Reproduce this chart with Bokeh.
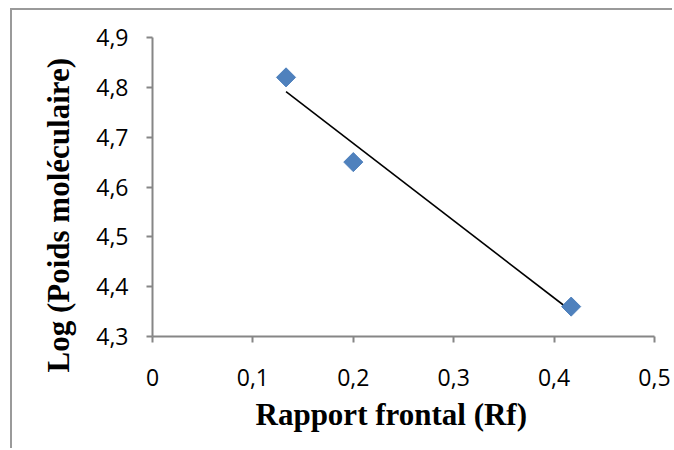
import numpy as np
from bokeh.plotting import figure
from bokeh.models import Range1d, FixedTicker, CustomJSTickFormatter, Title
from bokeh.embed import file_html
from bokeh.resources import INLINE

# Data
rf = [0.133, 0.200, 0.417]
log_pm = [4.82, 4.65, 4.36]
x_ticks = [0, 0.1, 0.2, 0.3, 0.4, 0.5]
y_ticks = [4.3, 4.4, 4.5, 4.6, 4.7, 4.8, 4.9]
x_title = "Rapport frontal (Rf)"
y_title = "Log (Poids moléculaire)"

# linear trendline (least squares)
slope, intercept = np.polyfit(rf, log_pm, 1)
tx = [min(rf), max(rf)]
ty = [slope * v + intercept for v in tx]

p = figure(width=662, height=440, output_backend="svg", toolbar_location=None,
           x_range=Range1d(0, 0.5), y_range=Range1d(4.3, 4.9),
           min_border_left=140, min_border_right=20, min_border_top=27, min_border_bottom=114)
p.styles = {"margin-left": "10px", "margin-top": "8px",
            "border-left": "2px solid #9a9a9a", "border-top": "2px solid #9a9a9a"}
p.outline_line_color = None
p.xgrid.visible = False
p.ygrid.visible = False
p.background_fill_color = "white"
p.border_fill_color = "white"

fmt = CustomJSTickFormatter(code="return (Math.round(tick*10)/10).toString().replace('.', ',');")
for ax, ticks in ((p.xaxis, x_ticks), (p.yaxis, y_ticks)):
    ax.ticker = FixedTicker(ticks=ticks)
    ax.formatter = fmt
    ax.axis_line_color = "#868686"
    ax.axis_line_width = 2
    ax.major_tick_line_color = "#868686"
    ax.major_tick_line_width = 2
    ax.major_tick_out = 6
    ax.major_tick_in = 0
    ax.minor_tick_line_color = None
    ax.major_label_text_font = "Open Sans"
    ax.major_label_text_font_size = "23px"
    ax.major_label_text_color = "black"
p.xaxis.major_label_standoff = 26
p.yaxis.major_label_standoff = 18

p.line(tx, ty, line_color="black", line_width=1.6)
p.scatter(rf, log_pm, marker="square", size=13.5, angle=np.pi / 4,
          fill_color="#4F81BD", line_color="#4F81BD")

p.add_layout(Title(text=x_title, align="left", offset=103, standoff=12,
                   text_font="Liberation Serif", text_font_style="bold",
                   text_font_size="31px", text_color="black"), "below")
p.add_layout(Title(text=y_title, align="left", offset=-36, standoff=36,
                   text_font="Liberation Serif", text_font_style="bold",
                   text_font_size="31px", text_color="black"), "left")

open("out.html", "w").write(file_html(p, INLINE))
